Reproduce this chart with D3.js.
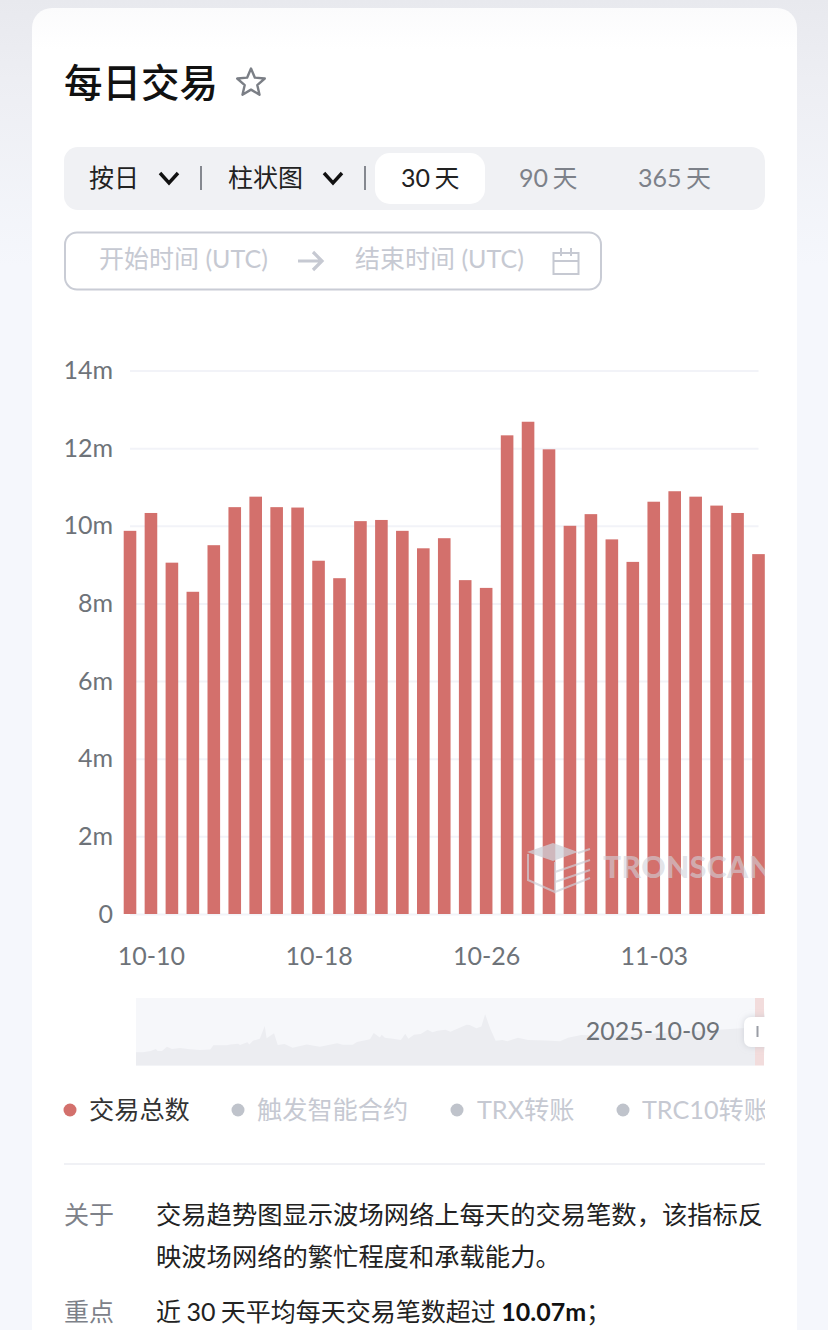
<!DOCTYPE html>
<html>
<head>
<meta charset="utf-8">
<style>
  html, body { margin: 0; padding: 0; width: 828px; height: 1330px; overflow: hidden; background: #f5f7fc; }
  svg { display: block; }
  text { font-family: Lato, "Noto Sans CJK SC", sans-serif; }
  .axis .domain { display: none; }
  .axis text { font-size: 25px; fill: #6e7379; font-family: Lato, sans-serif; }
  .y .tick line { stroke: #f2f3f8; stroke-width: 2px; }
  .x .tick line { display: none; }
</style>
</head>
<body>
<div id="chart"></div>
<script src="https://cdn.jsdelivr.net/npm/d3@7"></script>
<script>
// daily transactions, millions
const days = ['10-09','10-10','10-11','10-12','10-13','10-14','10-15','10-16','10-17','10-18','10-19','10-20','10-21','10-22','10-23','10-24','10-25','10-26','10-27','10-28','10-29','10-30','10-31','11-01','11-02','11-03','11-04','11-05','11-06','11-07','11-08'];
const txTotal = [9.87,10.33,9.05,8.3,9.5,10.48,10.75,10.48,10.47,9.1,8.65,10.12,10.15,9.87,9.42,9.68,8.6,8.4,12.33,12.68,11.97,10.0,10.3,9.65,9.07,10.62,10.89,10.75,10.52,10.33,9.27];
const yTicks = [0,2,4,6,8,10,12,14];
const xTicks = ['10-10','10-18','10-26','11-03'];

// overview strip under the chart: position along the strip (0-1000) and value
const miniPos = [0,11,24,32,35,42,50,58,71,87,103,120,125,147,152,165,168,180,183,189,200,208,211,223,229,240,253,276,297,325,334,350,357,378,384,394,397,402,415,428,435,440,449,460,471,479,487,500,508,534,539,550,558,564,572,581,592,600,617,633,661,685,698,719,759,800,860,960,990,1000];
const miniVal = [4.9,4.9,5.4,6.1,5.4,5.4,6.9,6.1,6.5,6.0,5.7,5.9,7.5,7.5,7.8,8.1,7.6,8.6,7.8,9.2,9.9,14.6,10.1,11.9,7.6,8.0,6.6,7.8,6.9,8.2,7.7,7.7,8.7,9.7,12.0,10.4,11.4,10.3,9.9,9.4,11.8,9.9,11.4,11.7,13.2,12.3,12.9,13.2,12.5,15.1,15,13.8,14.4,19,13.8,9.2,9.4,9.0,10.3,9.4,9.3,9.0,10.3,11.3,11.0,11.5,12.0,13.5,14.0,14.2];

const legendNames = ['交易总数','触发智能合约','TRX转账','TRC10转账'];
const barColor = '#d3706c';
const mutedText = '#c6c9d2';

const svg = d3.select('#chart').append('svg').attr('width', 828).attr('height', 1330);
const defs = svg.append('defs');

const pageGrad = defs.append('linearGradient').attr('id', 'pageGrad').attr('x2', 0).attr('y2', 1);
pageGrad.append('stop').attr('offset', 0).attr('stop-color', '#e8e9ee');
pageGrad.append('stop').attr('offset', 0.06).attr('stop-color', '#edeef3');
pageGrad.append('stop').attr('offset', 0.2).attr('stop-color', '#f5f7fc');
const cardGrad = defs.append('linearGradient').attr('id', 'cardGrad').attr('x2', 0).attr('y2', 1);
cardGrad.append('stop').attr('offset', 0).attr('stop-color', '#fbfbfc');
cardGrad.append('stop').attr('offset', 0.03).attr('stop-color', '#ffffff');
defs.append('clipPath').attr('id', 'chartClip').append('rect').attr('x', 0).attr('y', 0).attr('width', 765).attr('height', 1330);
const shadow = defs.append('filter').attr('id', 'handleShadow').attr('x', '-50%').attr('y', '-50%').attr('width', '200%').attr('height', '200%');
shadow.append('feDropShadow').attr('dx', 0).attr('dy', 0).attr('stdDeviation', 3).attr('flood-color', '#b9bcc6').attr('flood-opacity', 0.6);

svg.append('rect').attr('width', 828).attr('height', 1330).attr('fill', 'url(#pageGrad)');
svg.append('rect').attr('x', 32).attr('y', 8).attr('width', 765).attr('height', 1400).attr('rx', 20).attr('fill', 'url(#cardGrad)');

// header
function label(x, y, str, size, color, weight) {
  return svg.append('text').attr('x', x).attr('y', y).attr('font-size', size)
    .attr('fill', color).attr('font-weight', weight || 400).text(str);
}
label(64, 97, '每日交易', 38.5, '#111', 500);

const star = d3.range(10).map(i => [i % 2 ? 6.6 : 14.5, i * Math.PI / 5]);
svg.append('path').attr('transform', 'translate(251,83)')
  .attr('d', d3.lineRadial().radius(d => d[0]).angle(d => d[1]).curve(d3.curveLinearClosed)(star))
  .attr('fill', 'none').attr('stroke', '#7b7f86').attr('stroke-width', 2.4).attr('stroke-linejoin', 'round');

// toolbar
svg.append('rect').attr('x', 64).attr('y', 147).attr('width', 701).attr('height', 63).attr('rx', 14).attr('fill', '#f0f1f4');
svg.append('rect').attr('x', 375).attr('y', 153).attr('width', 110).attr('height', 51).attr('rx', 15).attr('fill', '#fff');
label(89, 187, '按日', 25, '#222');
label(228, 187, '柱状图', 25, '#222');
label(401, 187, '30 天', 25, '#222').attr('word-spacing', -2);
label(519, 187, '90 天', 25, '#7d8189').attr('word-spacing', -2);
label(638, 187, '365 天', 25, '#7d8189').attr('word-spacing', -2);
[169, 333].forEach(cx => {
  svg.append('path').attr('d', d3.line()([[cx - 9, 173], [cx, 183], [cx + 9, 173]]))
    .attr('fill', 'none').attr('stroke', '#111').attr('stroke-width', 3.4);
});
[201, 365].forEach(x => {
  svg.append('line').attr('x1', x).attr('x2', x).attr('y1', 166).attr('y2', 190).attr('stroke', '#85888f').attr('stroke-width', 2);
});

// date range box
svg.append('rect').attr('x', 65).attr('y', 232.5).attr('width', 536).attr('height', 57).attr('rx', 12)
  .attr('fill', '#fff').attr('stroke', '#c9ccd5').attr('stroke-width', 2);
label(99, 268, '开始时间 (UTC)', 25, mutedText);
label(355, 268, '结束时间 (UTC)', 25, mutedText);
svg.append('path').attr('d', 'M298 261H322M313 252L322 261L313 270').attr('fill', 'none').attr('stroke', mutedText).attr('stroke-width', 3.2);
svg.append('path').attr('d', 'M553.5 253H578.5V274H553.5ZM553.5 261H578.5M561 248V256M571 248V256').attr('fill', 'none').attr('stroke', mutedText).attr('stroke-width', 2);

// main chart
const x = d3.scalePoint().domain(days).range([130, 758.5]);
const y = d3.scaleLinear().domain([0, 14]).range([914, 370.5]);

svg.append('g').attr('class', 'axis y').attr('transform', 'translate(130,0)')
  .call(d3.axisLeft(y).tickValues(yTicks).tickSize(-628.5).tickPadding(17).tickFormat(d => d ? d + 'm' : '0'));

svg.append('g').attr('class', 'axis x').attr('transform', 'translate(0,914)')
  .call(d3.axisBottom(x).tickValues(xTicks).tickSize(0).tickPadding(33));

const barWidth = 12.6;
svg.append('g').selectAll('rect').data(txTotal).join('rect')
  .attr('x', (d, i) => x(days[i]) - barWidth / 2)
  .attr('y', d => y(d))
  .attr('width', barWidth)
  .attr('height', d => y(0) - y(d))
  .attr('fill', barColor);

// watermark
const mark = svg.append('g').attr('clip-path', 'url(#chartClip)');
mark.append('path').attr('d', 'M527 852L553 843L578 852L553 861Z').attr('fill', 'rgba(205,208,216,0.75)');
mark.append('path').attr('d', 'M528 854V880L555 892M555 862V892L590 878M555 872L590 860M555 882L590 870M578 853L590 849')
  .attr('fill', 'none').attr('stroke', 'rgba(205,208,216,0.7)').attr('stroke-width', 2);
mark.append('text').attr('x', 603).attr('y', 878).attr('font-size', 30).attr('font-weight', 900)
  .attr('letter-spacing', 0.5).attr('fill', 'rgba(208,210,218,0.62)').text('TRONSCAN');

// overview strip
const miniX = d3.scaleLinear().domain([0, 1000]).range([136, 755]);
const miniY = d3.scaleLinear().domain([0, 25]).range([1065.5, 998]);
svg.append('rect').attr('x', 136).attr('y', 998).attr('width', 619).attr('height', 67.5).attr('fill', '#f6f7fa');
svg.append('path').datum(miniVal)
  .attr('d', d3.area().x((d, i) => miniX(miniPos[i])).y0(miniY(0)).y1(d => miniY(d)))
  .attr('fill', '#ecedf1');
svg.append('rect').attr('x', 755).attr('y', 998).attr('width', 9).attr('height', 67.5).attr('fill', '#f2dcdc');
const handle = svg.append('g').attr('clip-path', 'url(#chartClip)');
handle.append('rect').attr('x', 744).attr('y', 1017).attr('width', 30).attr('height', 30).attr('rx', 7)
  .attr('fill', '#fff').attr('filter', 'url(#handleShadow)');
handle.append('rect').attr('x', 756.5).attr('y', 1026).attr('width', 2).attr('height', 11).attr('fill', '#9a9da5');
svg.append('text').attr('x', 653).attr('y', 1040).attr('text-anchor', 'middle')
  .attr('font-size', 25).attr('fill', '#6e7379').text('2025-10-09');

// legend
const legendDot = [70, 238, 457, 623];
const legendText = [89, 257, 477, 642];
const legend = svg.append('g').attr('clip-path', 'url(#chartClip)');
legendNames.forEach((name, i) => {
  legend.append('circle').attr('cx', legendDot[i]).attr('cy', 1110).attr('r', 6.5).attr('fill', i ? '#bfc3cb' : barColor);
  legend.append('text').attr('x', legendText[i]).attr('y', 1119).attr('font-size', 25.2)
    .attr('fill', i ? mutedText : '#333').text(name);
});

// description
svg.append('line').attr('x1', 64).attr('x2', 765).attr('y1', 1164).attr('y2', 1164).attr('stroke', '#f0f1f5').attr('stroke-width', 2);
label(64, 1224, '关于', 25, '#7d8189');
label(156, 1224, '交易趋势图显示波场网络上每天的交易笔数，该指标反', 25.3, '#222');
label(156, 1266, '映波场网络的繁忙程度和承载能力。', 25.3, '#222');
label(64, 1321, '重点', 25, '#7d8189');
const point = label(156, 1321, '近 30 天平均每天交易笔数超过 ', 25, '#222').attr('word-spacing', -1);
point.append('tspan').attr('font-weight', 700).attr('fill', '#111').text('10.07m');
point.append('tspan').text('；');
</script>
</body>
</html>
